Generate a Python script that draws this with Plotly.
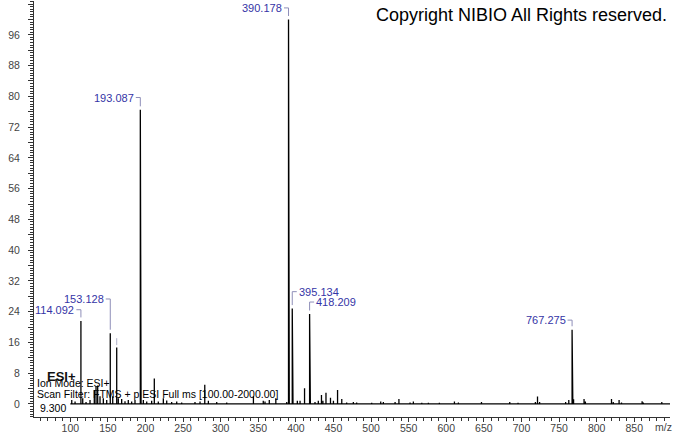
import numpy as np
import plotly.graph_objects as go

# ---- data ----
peak_mz = [101.9, 106.3, 114.092, 116.5, 120.9, 126.2, 131.9, 134.2, 136.4, 139.5,
           143.9, 148.4, 153.128, 156.4, 161.7, 163.8, 168.3, 172.7, 177.1, 181.6,
           186.0, 193.087, 194.09, 197.1, 201.6, 208.2, 211.7, 217.0, 223.7, 228.2,
           234.8, 241.5, 248.1, 265.8, 272.5, 278.8, 283.6, 294.7, 308.0, 343.5,
           356.6, 358.9, 364.6, 373.3, 387.8, 390.178, 391.18, 396.14, 401.9, 405.5,
           411.5, 418.209, 419.21, 425.4, 429.8, 434.0, 435.9, 440.0, 446.0, 449.9,
           455.4, 461.0, 467.5, 476.4, 480.8, 500.8, 512.8, 516.3, 531.9, 537.0,
           551.8, 556.2, 567.4, 576.2, 590.8, 610.8, 616.1, 646.8, 684.4, 695.4,
           718.5, 721.3, 724.1, 758.7, 762.9, 767.275, 768.28, 769.28, 783.2, 785.0,
           819.7, 822.0, 829.8, 833.0, 860.4, 862.0, 886.6, 395.134]
peak_intensity = [1.0, 0.6, 21.6, 1.5, 0.5, 1.0, 3.6, 4.6, 4.8, 2.0,
                  1.5, 1.0, 18.4, 2.0, 14.7, 1.5, 1.3, 0.7, 1.0, 0.6,
                  1.0, 76.5, 9.3, 1.0, 0.6, 0.8, 6.6, 0.6, 1.5, 0.9,
                  0.5, 0.6, 0.4, 0.5, 0.6, 5.0, 0.8, 0.5, 0.4, 2.0,
                  0.8, 0.6, 1.0, 1.5, 0.5, 100.0, 3.4, 0.8, 0.8, 0.8,
                  4.1, 23.4, 4.6, 0.5, 0.8, 2.3, 0.8, 2.9, 1.6, 0.8,
                  3.6, 1.3, 0.4, 0.5, 0.4, 0.3, 0.6, 0.5, 0.5, 1.3,
                  0.4, 0.6, 0.3, 0.3, 0.3, 0.6, 0.4, 0.5, 0.5, 0.3,
                  0.5, 1.9, 0.5, 0.5, 1.0, 19.3, 7.3, 1.2, 1.3, 0.6,
                  1.3, 0.5, 1.0, 0.4, 0.7, 0.4, 0.5, 24.8]
scan_range = [100.0, 2000.0]

label_mz = [114.092, 153.128, 193.087, 390.178, 395.134, 418.209, 767.275]
label_y = [24.5, 27.3, 79.7, 103.0, 29.2, 26.5, 21.8]
label_side = ["left", "left", "left", "left", "right", "right", "left"]
hidden_leader_mz = [161.7]

y_tick_vals = list(range(0, 105, 4))
y_tick_text = [str(v) if v % 8 == 0 else "" for v in y_tick_vals]
x_tick_vals = list(range(100, 851, 50))

x_range = [51.7, 897.5]
y_range = [-3.4, 104.8]

info_lines = ["Ion Mode: ESI+", "Scan Filter: FTMS + p ESI Full ms [100.00-2000.00]", "9.300"]

# ---- build stick spectrum ----
order = np.argsort(peak_mz)
mz = np.array(peak_mz)[order]
it = np.array(peak_intensity)[order]
xs = [scan_range[0]]
ys = [0.0]
for m, v in zip(mz, it):
    xs += [m, m, m]
    ys += [0.0, v, 0.0]
xs.append(scan_range[1])
ys.append(0.0)

fig = go.Figure()
fig.add_trace(go.Scatter(x=xs, y=ys, mode="lines",
                         line=dict(color="black", width=1.3),
                         hoverinfo="skip", showlegend=False))

L, R, T, B = 34, 3, 1, 16
W, H = 673, 433
plot_w = W - L - R
px_per_mz = plot_w / (x_range[1] - x_range[0])

label_color = "#3434a6"
leader_color = "#8e8eb8"
lead_len = 6.0  # m/z units
lookup = dict(zip(peak_mz, peak_intensity))
base_font = "Liberation Sans, Arial"

for m, ly, side in zip(label_mz, label_y, label_side):
    top = lookup[m] + 0.9
    sign = -1 if side == "left" else 1
    path = f"M {m + sign * lead_len} {ly} L {m} {ly} L {m} {top}"
    fig.add_annotation(x=m, y=ly, xref="x", yref="y", text=f"{m:.3f}",
                       showarrow=False, xanchor="right" if side == "left" else "left",
                       yanchor="middle", xshift=sign * (lead_len * px_per_mz + 1), borderpad=0,
                       font=dict(family=base_font, size=11, color=label_color))
    fig.add_shape(type="path", path=path, xref="x", yref="y",
                  line=dict(color=leader_color, width=1))

for m in hidden_leader_mz:
    v = lookup[m]
    fig.add_shape(type="line", x0=m, x1=m, y0=v + 0.6, y1=v + 2.4, xref="x", yref="y",
                  line=dict(color="#b0b0c8", width=1))

def px_to_paper_x(px):
    return (px - L) / plot_w

def px_to_paper_y(py):
    return (H - B - py) / (H - B - T)

fig.add_annotation(x=px_to_paper_x(668), y=px_to_paper_y(15), xref="paper", yref="paper",
                   text="Copyright NIBIO All Rights reserved.", showarrow=False,
                   xanchor="right", yanchor="middle", borderpad=0,
                   font=dict(family=base_font, size=18, color="black"))
fig.add_annotation(x=px_to_paper_x(46), y=px_to_paper_y(376), xref="paper", yref="paper",
                   text="<b>ESI+</b>", showarrow=False, xanchor="left", yanchor="middle",
                   borderpad=0, font=dict(family=base_font, size=13, color="#111"))
info_pos = [(35.5, 382.7), (35.5, 394.3), (39, 407.7)]
for txt, (px, py) in zip(info_lines, info_pos):
    fig.add_annotation(x=px_to_paper_x(px), y=px_to_paper_y(py), xref="paper", yref="paper",
                       text=txt, showarrow=False, xanchor="left", yanchor="middle",
                       borderpad=0, font=dict(family=base_font, size=10.5, color="black"))
fig.add_annotation(x=px_to_paper_x(663), y=px_to_paper_y(426.5), xref="paper", yref="paper",
                   text="m/z", showarrow=False, xanchor="center", yanchor="middle",
                   borderpad=0, font=dict(family=base_font, size=10.5, color="#444"))

axis_col = "#333333"
fig.update_xaxes(range=x_range, showline=True, linecolor=axis_col, linewidth=1,
                 ticks="outside", ticklen=4, tickcolor=axis_col, tickwidth=1,
                 tickvals=x_tick_vals, ticktext=[str(v) for v in x_tick_vals],
                 minor=dict(dtick=10, tick0=0, ticks="outside", ticklen=3, tickcolor=axis_col),
                 showgrid=False, zeroline=False, automargin=False, ticklabelstandoff=-3,
                 tickfont=dict(family=base_font, size=10.5, color="#444"))
fig.update_yaxes(range=y_range, showline=True, linecolor=axis_col, linewidth=1,
                 ticks="outside", ticklen=5, tickcolor=axis_col, tickwidth=1,
                 tickvals=y_tick_vals, ticktext=y_tick_text,
                 minor=dict(dtick=2/3, tick0=0, ticks="outside", ticklen=3, tickcolor=axis_col),
                 showgrid=False, zeroline=False, automargin=False, ticklabelstandoff=6,
                 tickfont=dict(family=base_font, size=10.5, color="#444"))

fig.update_layout(width=W, height=H, margin=dict(l=L, r=R, t=T, b=B),
                  paper_bgcolor="white", plot_bgcolor="white", showlegend=False)

fig.write_html("out.html", config={"displayModeBar": False},
               post_script="document.body.style.margin='0';")
